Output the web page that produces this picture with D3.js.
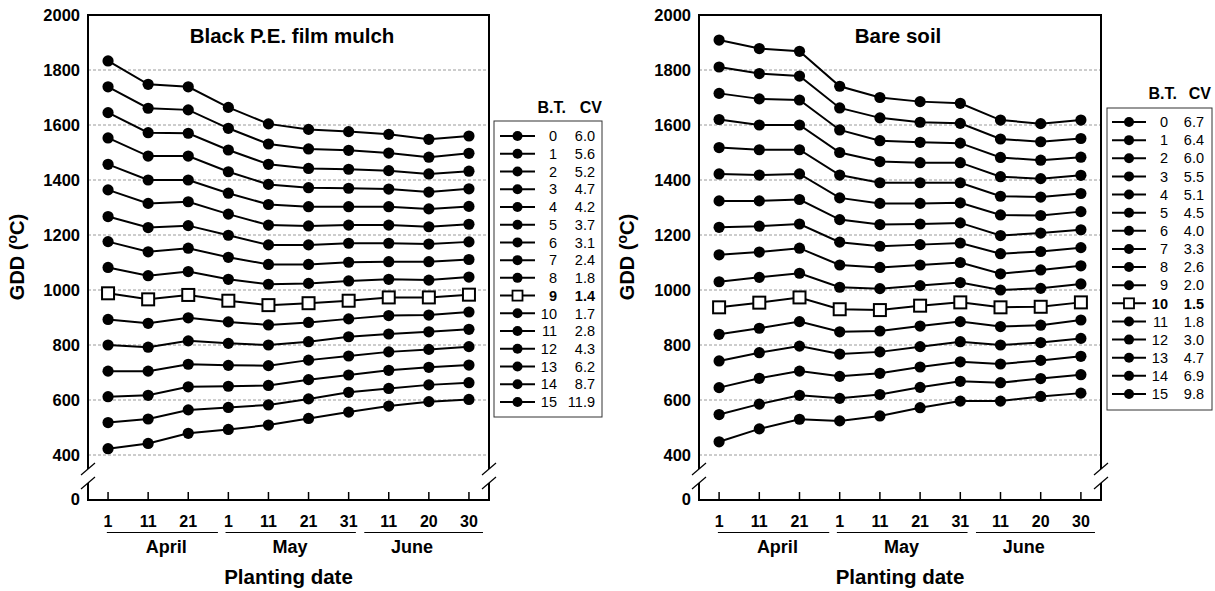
<!DOCTYPE html>
<html><head><meta charset="utf-8">
<script src="https://cdn.jsdelivr.net/npm/d3@7"></script>
<style>
body{margin:0;background:#fff;}
svg{display:block;font-family:Arial,"Liberation Sans",sans-serif;}
</style></head>
<body><svg id="c" width="1215" height="591"></svg>
<script>
// ---------- DATA ----------
const dateLabels = ["1","11","21","1","11","21","31","11","20","30"];
const months = ["April","May","June"];
const baseTemps = [0,1,2,3,4,5,6,7,8,9,10,11,12,13,14,15];
const yTicks = [400,600,800,1000,1200,1400,1600,1800,2000];

const mulchCV = ["6.0","5.6","5.2","4.7","4.2","3.7","3.1","2.4","1.8","1.4","1.7","2.8","4.3","6.2","8.7","11.9"];
const mulchBest = 9;
const mulchGDD = [
  [1833,1748,1739,1664,1604,1584,1576,1566,1548,1560],
  [1739,1661,1655,1588,1531,1513,1508,1498,1483,1497],
  [1645,1572,1570,1509,1457,1442,1439,1434,1422,1432],
  [1553,1487,1487,1430,1384,1372,1370,1367,1356,1368],
  [1457,1400,1400,1352,1311,1303,1303,1303,1295,1304],
  [1364,1315,1321,1276,1236,1233,1236,1236,1230,1239],
  [1267,1227,1234,1199,1164,1164,1170,1170,1167,1175],
  [1176,1139,1152,1119,1093,1093,1101,1103,1103,1111],
  [1082,1052,1067,1039,1021,1024,1033,1039,1036,1047],
  [988,966,982,961,945,952,961,973,973,983],
  [893,879,899,884,873,882,895,907,909,920],
  [800,792,815,806,800,812,830,840,848,857],
  [705,705,730,726,725,745,760,775,784,794],
  [612,617,648,650,653,674,691,708,719,727],
  [518,531,564,573,582,604,628,642,655,663],
  [423,442,479,493,509,533,556,578,594,602]
];

const bareCV = ["6.7","6.4","6.0","5.5","5.1","4.5","4.0","3.3","2.6","2.0","1.5","1.8","3.0","4.7","6.9","9.8"];
const bareBest = 10;
const bareGDD = [
  [1909,1878,1868,1741,1700,1685,1679,1618,1605,1618],
  [1811,1787,1778,1662,1626,1610,1606,1549,1539,1551],
  [1715,1695,1691,1582,1543,1537,1534,1482,1472,1483],
  [1620,1600,1600,1500,1467,1463,1463,1412,1405,1417],
  [1518,1510,1510,1418,1390,1390,1390,1341,1338,1351],
  [1422,1418,1422,1335,1315,1315,1317,1273,1271,1285],
  [1324,1324,1329,1256,1238,1240,1244,1198,1207,1219],
  [1228,1232,1240,1174,1159,1165,1171,1132,1140,1154],
  [1128,1138,1152,1091,1082,1091,1100,1059,1073,1088],
  [1030,1046,1061,1010,1005,1016,1027,1000,1006,1022],
  [937,954,973,930,927,943,955,937,939,955],
  [839,861,885,848,851,869,885,867,872,891],
  [742,772,796,767,775,794,812,800,809,824],
  [645,679,705,686,697,720,739,731,744,759],
  [547,585,617,606,620,646,668,663,678,692],
  [448,495,530,524,542,572,596,596,613,625]
];

// ---------- LAYOUT ----------
const svg = d3.select("#c");
const monthSpans = [[-0.03,2.74],[2.93,6.18],[6.39,9.35]];
const monthLabelPos = [1.45,4.54,7.58];

function panel(cfg){
  const {x0,x1,title,series,best,cv,titleX,yTitleX,legend} = cfg;
  const top=15, bottom=500;
  const g = svg.append("g");
  const x = d3.scalePoint().domain(d3.range(dateLabels.length)).range([x0,x1]).padding(0.5);
  const y = d3.scaleLinear().domain([400,2000]).range([455,15]);
  const step = x.step();
  const xf = i => x(0) + i*step;

  // gridlines
  g.selectAll(".grid").data(yTicks.filter(v=>v<2000)).join("line")
    .attr("x1",x0).attr("x2",x1).attr("y1",d=>y(d)).attr("y2",d=>y(d))
    .attr("stroke","#9a9a9a").attr("stroke-width",1).attr("stroke-dasharray","3,2");

  // y axis via d3 axis (labels only)
  const ya = g.append("g").attr("transform",`translate(${x0},0)`)
    .call(d3.axisLeft(y).tickValues(yTicks).tickFormat(d3.format("d")).tickSize(0).tickPadding(8));
  ya.select(".domain").remove();
  ya.selectAll("text").attr("font-size",16.5).attr("font-weight","bold").attr("fill","#000")
    .attr("font-family","Arial, Liberation Sans, sans-serif");
  g.append("text").attr("x",x0-8).attr("y",bottom).attr("dy","0.32em")
    .attr("text-anchor","end").attr("font-size",16.5).attr("font-weight","bold").text("0");

  // frame with breaks
  const fr = g.append("g").attr("stroke","#000").attr("stroke-width",2).attr("fill","none");
  fr.append("line").attr("x1",x0).attr("x2",x1).attr("y1",top).attr("y2",top);
  fr.append("line").attr("x1",x0).attr("x2",x1).attr("y1",bottom).attr("y2",bottom);
  fr.append("line").attr("x1",x0).attr("x2",x0).attr("y1",top-1).attr("y2",469);
  fr.append("line").attr("x1",x0).attr("x2",x0).attr("y1",483).attr("y2",bottom+1);
  fr.append("line").attr("x1",x1).attr("x2",x1).attr("y1",top-1).attr("y2",469);
  fr.append("line").attr("x1",x1).attr("x2",x1).attr("y1",483).attr("y2",bottom+1);
  const br = g.append("g").attr("stroke","#000").attr("stroke-width",1.2);
  [[x0,469],[x0,483],[x1,469],[x1,483]].forEach(([bx,by])=>{
    br.append("line").attr("x1",bx-7).attr("y1",by+6).attr("x2",bx+7).attr("y2",by-6);
  });

  // x ticks (inside, up from bottom)
  g.selectAll(".xt").data(d3.range(dateLabels.length)).join("line")
    .attr("x1",d=>x(d)).attr("x2",d=>x(d)).attr("y1",bottom).attr("y2",bottom-8)
    .attr("stroke","#000").attr("stroke-width",1.5);
  g.selectAll(".xl").data(dateLabels).join("text")
    .attr("x",(d,i)=>x(i)).attr("y",527).attr("text-anchor","middle")
    .attr("font-size",16).attr("font-weight","bold").text(d=>d);
  // month underlines + labels
  g.selectAll(".mu").data(monthSpans).join("line")
    .attr("x1",d=>xf(d[0])).attr("x2",d=>xf(d[1])).attr("y1",532.5).attr("y2",532.5)
    .attr("stroke","#000").attr("stroke-width",1);
  g.selectAll(".ml").data(months).join("text")
    .attr("x",(d,i)=>xf(monthLabelPos[i])).attr("y",553).attr("text-anchor","middle")
    .attr("font-size",18).attr("font-weight","bold").text(d=>d);
  g.append("text").attr("x",(x0+x1)/2).attr("y",584).attr("text-anchor","middle")
    .attr("font-size",20.5).attr("font-weight","bold").text("Planting date");

  // y title
  const yt = g.append("text").attr("transform",`translate(${yTitleX},257) rotate(-90)`)
    .attr("text-anchor","middle").attr("font-size",20).attr("font-weight","bold");
  yt.append("tspan").text("GDD (");
  yt.append("tspan").attr("dy",-7).attr("font-size",14).text("o");
  yt.append("tspan").attr("dy",7).text("C)");

  // title
  g.append("text").attr("x",titleX).attr("y",43).attr("text-anchor","middle")
    .attr("font-size",20.5).attr("font-weight","bold").text(title);

  // series lines
  const line = d3.line().x((d,i)=>x(i)).y(d=>y(d));
  g.selectAll(".ser").data(series).join("path")
    .attr("d",line).attr("fill","none").attr("stroke","#000").attr("stroke-width",2);
  series.forEach((s,si)=>{
    if(si===best){
      g.selectAll(null).data(s).join("rect")
        .attr("x",(d,i)=>x(i)-6).attr("y",d=>y(d)-6).attr("width",12).attr("height",12)
        .attr("fill","#fff").attr("stroke","#000").attr("stroke-width",2);
    } else {
      g.selectAll(null).data(s).join("circle")
        .attr("cx",(d,i)=>x(i)).attr("cy",d=>y(d)).attr("r",5.6).attr("fill","#000");
    }
  });

  // legend
  const L = legend;
  g.append("rect").attr("x",L.bx).attr("y",L.by).attr("width",L.bw).attr("height",L.bh)
    .attr("fill","#fff").attr("stroke","#333").attr("stroke-width",1);
  g.append("text").attr("x",L.btRight+9).attr("y",L.hy).attr("text-anchor","end")
    .attr("font-size",16).attr("font-weight","bold").text("B.T.");
  g.append("text").attr("x",L.cvRight+7).attr("y",L.hy).attr("text-anchor","end")
    .attr("font-size",16).attr("font-weight","bold").text("CV");
  const ly = d3.scalePoint().domain(baseTemps).range([L.r0,L.r1]);
  baseTemps.forEach((bt,i)=>{
    const yy = ly(bt);
    g.append("line").attr("x1",L.l0).attr("x2",L.l1).attr("y1",yy).attr("y2",yy)
      .attr("stroke","#000").attr("stroke-width",2);
    const mx=(L.l0+L.l1)/2;
    if(i===best){
      g.append("rect").attr("x",mx-5).attr("y",yy-5).attr("width",10).attr("height",10)
        .attr("fill","#fff").attr("stroke","#000").attr("stroke-width",1.8);
    } else {
      g.append("circle").attr("cx",mx).attr("cy",yy).attr("r",5).attr("fill","#000");
    }
    g.append("text").attr("x",L.btRight).attr("y",yy).attr("dy","0.36em").attr("text-anchor","end")
      .attr("font-size",14.5).attr("font-weight",i===best?"bold":"normal").text(bt);
    g.append("text").attr("x",L.cvRight).attr("y",yy).attr("dy","0.36em").attr("text-anchor","end")
      .attr("font-size",14.5).attr("font-weight",i===best?"bold":"normal").text(cv[i]);
  });
}

panel({x0:88,x1:489,title:"Black P.E. film mulch",series:mulchGDD,best:mulchBest,cv:mulchCV,
  titleX:292,yTitleX:24,
  legend:{bx:494,by:121,bw:108,bh:296,hy:113,r0:136,r1:402,l0:500,l1:535,btRight:557,cvRight:595}});
panel({x0:699,x1:1101,title:"Bare soil",series:bareGDD,best:bareBest,cv:bareCV,
  titleX:898,yTitleX:634,
  legend:{bx:1107,by:108,bw:105,bh:302,hy:99,r0:122,r1:394,l0:1112,l1:1146,btRight:1168,cvRight:1204}});
</script></body></html>
